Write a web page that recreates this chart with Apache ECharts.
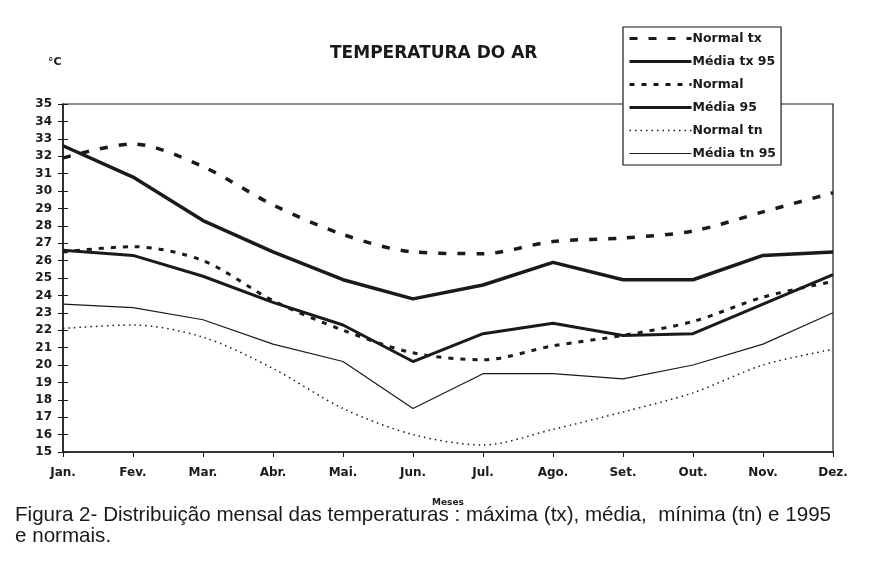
<!DOCTYPE html>
<html>
<head>
<meta charset="utf-8">
<script src="https://cdn.jsdelivr.net/npm/echarts@6/dist/echarts.min.js"></script>
<style>
html,body{margin:0;padding:0;background:#fff;}
#chart{width:873px;height:562px;}
</style>
</head>
<body>
<div id="chart"></div>
<script>
var meses = ['Jan.','Fev.','Mar.','Abr.','Mai.','Jun.','Jul.','Ago.','Set.','Out.','Nov.','Dez.'];
var normalTx  = [31.9, 32.7, 31.4, 29.2, 27.5, 26.5, 26.4, 27.1, 27.3, 27.7, 28.8, 29.9];
var mediaTx95 = [32.6, 30.8, 28.3, 26.5, 24.9, 23.8, 24.6, 25.9, 24.9, 24.9, 26.3, 26.5];
var normal    = [26.5, 26.8, 26.0, 23.7, 22.0, 20.7, 20.3, 21.1, 21.7, 22.5, 23.9, 24.8];
var media95   = [26.6, 26.3, 25.1, 23.6, 22.3, 20.2, 21.8, 22.4, 21.7, 21.8, 23.5, 25.2];
var normalTn  = [22.1, 22.3, 21.6, 19.8, 17.5, 16.0, 15.4, 16.3, 17.3, 18.4, 20.0, 20.9];
var mediaTn95 = [23.5, 23.3, 22.6, 21.2, 20.2, 17.5, 19.5, 19.5, 19.2, 20.0, 21.2, 23.0];

var ink = '#1a1a1a';
var chart = echarts.init(document.getElementById('chart'));

// estilos das linhas: nome, largura, tracejado, suavizada
var estilos = [
    ['Normal tx', 3.5, [8, 11], 0.3],
    ['Média tx 95', 3.5, 'solid', false],
    ['Normal', 3, [5, 7], 0.3],
    ['Média 95', 3, 'solid', false],
    ['Normal tn', 1.5, [1.5, 4], 0.3],
    ['Média tn 95', 1.2, 'solid', false]
];
var valores = [normalTx, mediaTx95, normal, media95, normalTn, mediaTn95];

var series = estilos.map(function (e, i) {
    return {
        name: e[0], type: 'line', data: valores[i], symbol: 'none', smooth: e[3],
        lineStyle: {color: ink, width: e[1], type: e[2]},
        itemStyle: {color: ink}
    };
});
var legendData = estilos.map(function (e) {
    return {name: e[0], lineStyle: {width: Math.min(e[1], 3), type: e[2], color: ink}};
});

var option = {
    backgroundColor: '#fff',
    animation: false,
    title: {
        text: 'TEMPERATURA DO AR',
        left: 325, top: 40,
        textStyle: {fontFamily: 'DejaVu Sans', fontWeight: 'bold', fontSize: 17, color: ink}
    },
    legend: {
        orient: 'vertical',
        left: 623, top: 27,
        padding: [5, 5, 5, 5],
        itemWidth: 62, itemHeight: 14, itemGap: 10,
        backgroundColor: '#fff',
        borderColor: ink, borderWidth: 1.2,
        itemStyle: {opacity: 0},
        textStyle: {fontFamily: 'DejaVu Sans', fontWeight: 'bold', fontSize: 12.5, color: ink, padding: [0, 0, 0, -4]},
        data: legendData
    },
    grid: {left: 63, right: 40, top: 104, bottom: 110, show: true, borderColor: ink, borderWidth: 1.2},
    xAxis: {
        type: 'category', data: meses, boundaryGap: false,
        axisLine: {lineStyle: {color: ink, width: 1.5}},
        axisTick: {show: true, length: 5, lineStyle: {color: ink}},
        axisLabel: {fontFamily: 'DejaVu Sans', fontWeight: 'bold', fontSize: 12, color: ink, margin: 15, interval: 0},
        name: 'Meses', nameLocation: 'middle', nameGap: 46,
        nameTextStyle: {fontFamily: 'DejaVu Sans', fontWeight: 'bold', fontSize: 9, color: ink},
        splitLine: {show: false}
    },
    yAxis: [{
        type: 'value', min: 15, max: 35, interval: 1,
        axisLine: {show: true, lineStyle: {color: ink, width: 1.5}},
        axisTick: {show: true, length: 5, lineStyle: {color: ink}},
        axisLabel: {fontFamily: 'DejaVu Sans', fontWeight: 'bold', fontSize: 12, color: ink, margin: 11},
        splitLine: {show: false}
    }, {
        type: 'value', min: 15, max: 35, interval: 1, position: 'left', offset: 0,
        axisLine: {show: false},
        axisTick: {show: true, inside: true, length: 5, lineStyle: {color: ink}},
        axisLabel: {show: false},
        splitLine: {show: false}
    }],
    graphic: [{
        type: 'text', left: 48, top: 57,
        style: {text: '°C', font: 'bold 11px "DejaVu Sans"', fill: ink}
    }, {
        type: 'text', left: 15, top: 505,
        style: {text: 'Figura 2- Distribuição mensal das temperaturas : máxima (tx), média,  mínima (tn) e 1995\ne normais.',
            font: '20.6px "Liberation Sans"', fill: ink, lineHeight: 21}
    }],
    series: series
};
chart.setOption(option);
</script>
</body>
</html>
